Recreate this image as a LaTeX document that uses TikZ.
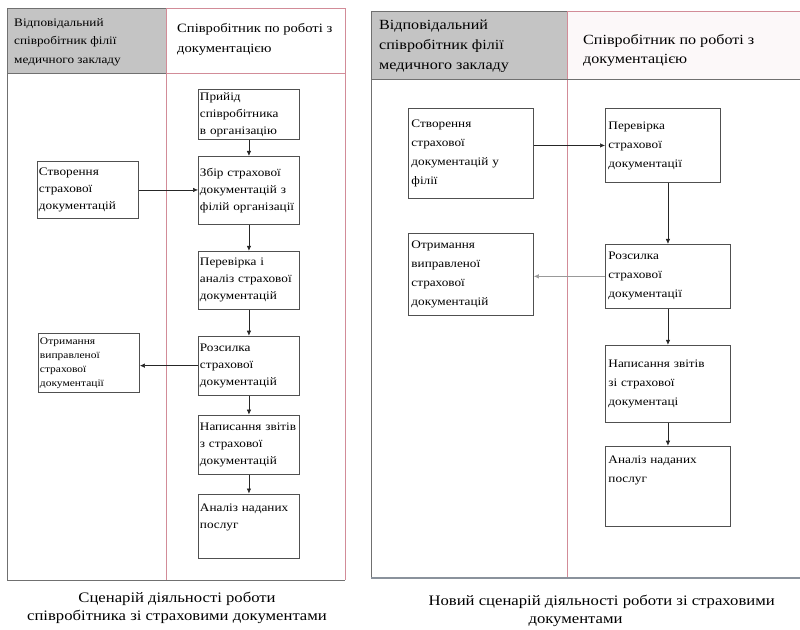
\documentclass[tikz,border=0pt]{standalone}
\usepackage{fontspec}
\setmainfont[FakeStretch=1.15]{Liberation Serif}
\usepackage{tikz}
\usetikzlibrary{arrows.meta, positioning}
\usepackage{xcolor}
\definecolor{headGray}{HTML}{C4C4C4}
\definecolor{laneRed}{HTML}{D28C98}
\definecolor{frameGray}{HTML}{707070}
\definecolor{boxGray}{HTML}{505050}
\definecolor{baseSlate}{HTML}{8A929C}

\begin{document}
\begin{tikzpicture}[
    x=1pt, y=-1pt,
    node distance=20pt,
    stepbox/.style={rectangle, draw=boxGray, line width=0.9pt, anchor=north west, align=left, inner xsep=1.5pt, inner ysep=2pt},
    oldbox/.style={stepbox, text width=98pt, font=\fontsize{11.5}{17}\selectfont},
    newbox/.style={stepbox, inner xsep=3pt, text width=119pt, font=\fontsize{11.5}{19}\selectfont},
    head/.style={anchor=north west, align=left, inner sep=0pt},
    flow/.style={draw=black!85, line width=0.6pt, -{Latex[length=5pt, width=4.5pt]}},
]
    \useasboundingbox (0,0) rectangle (800,629);

    % old scenario: lanes
    \fill[headGray] (7,8) rectangle (166,73);
    \draw[frameGray, line width=1pt] (166,8) -- (7,8) -- (7,580) -- (345,580);
    \draw[frameGray, line width=0.8pt] (7,73) -- (166,73);
    \draw[laneRed, line width=1pt] (166,580) -- (166,8) -- (345,8) -- (345,580);
    \draw[laneRed, line width=0.8pt] (166,73) -- (345,73);
    \node[head, font=\fontsize{11.5}{18.5}\selectfont] (hdrBranchOld) at (14,18) {Відповідальний\\співробітник філії\\медичного закладу};
    \node[head, font=\fontsize{12.7}{20}\selectfont] (hdrDocsOld) at (177,23) {Співробітник по роботі з\\документацією};

    % old scenario: steps
    \node[oldbox, minimum height=50pt] (prijom) at (198,89) {Прийід\\співробітника\\в організацію};
    \node[oldbox, minimum height=68pt, below=16pt of prijom] (zbir) {Збір страхової\\документацій з\\філій організації};
    \node[oldbox, minimum height=58pt, below=26pt of zbir] (perevirkaOld) {Перевірка і\\аналіз страхової\\документацій};
    \node[oldbox, minimum height=59pt, below=26pt of perevirkaOld] (rozsylkaOld) {Розсилка\\страхової\\документацій};
    \node[oldbox, minimum height=59pt, below=19pt of rozsylkaOld] (napysOld) {Написання звітів\\з страхової\\документацій};
    \node[oldbox, minimum height=64pt, below=19pt of napysOld] (analizOld) {Аналіз наданих\\послуг\\[2pt]\mbox{}};
    \node[oldbox, minimum height=57pt] (stvorOld) at (37,161) {Створення\\страхової\\документацій};
    \node[oldbox, minimum height=59pt, font=\fontsize{10}{14}\selectfont] (otrymOld) at (38,333) {Отримання\\виправленої\\страхової\\документації};

    \draw[flow] (prijom.south) -- (zbir.north);
    \draw[flow] (zbir.south) -- (perevirkaOld.north);
    \draw[flow] (perevirkaOld.south) -- (rozsylkaOld.north);
    \draw[flow] (rozsylkaOld.south) -- (napysOld.north);
    \draw[flow] (napysOld.south) -- (analizOld.north);
    \draw[flow] (stvorOld.east) -- (stvorOld.east -| zbir.west);
    \draw[flow] (rozsylkaOld.west) -- (rozsylkaOld.west -| otrymOld.east);

    % new scenario: lanes
    \fill[headGray] (371,11) rectangle (567,79);
    \fill[laneRed!6] (567,11) rectangle (800,79);
    \draw[frameGray, line width=1pt] (567,11) -- (371,11) -- (371,578);
    \draw[laneRed, line width=1pt] (567,578) -- (567,11) -- (800,11);
    \draw[frameGray, line width=0.8pt] (371,79) -- (800,79);
    \draw[baseSlate, line width=1.5pt] (371,578) -- (800,578);
    \node[head, font=\fontsize{14}{20}\selectfont] (hdrBranchNew) at (379,20) {Відповідальний\\співробітник філії\\медичного закладу};
    \node[head, font=\fontsize{14}{19}\selectfont] (hdrDocsNew) at (583,34) {Співробітник по роботі з\\документацією};

    % new scenario: steps
    \node[newbox, minimum height=90pt] (stvorNew) at (408,108) {Створення\\страхової\\документацій у\\філії};
    \node[newbox, minimum height=82pt] (otrymNew) at (408,233) {Отримання\\виправленої\\страхової\\документацій};
    \node[newbox, text width=109pt, minimum height=74pt] (perevirkaNew) at (605,108) {Перевірка\\страхової\\документації};
    \node[newbox, minimum height=64pt, below=61pt of perevirkaNew.south west, anchor=north west] (rozsylkaNew) {Розсилка\\страхової\\документації};
    \node[newbox, minimum height=77pt, below=36pt of rozsylkaNew] (napysNew) {Написання звітів\\зі страхової\\документаці};
    \node[newbox, minimum height=80pt, below=23pt of napysNew] (analizNew) {Аналіз наданих\\послуг\\[14pt]\mbox{}};

    \draw[flow] (stvorNew.east |- perevirkaNew.west) -- (perevirkaNew.west);
    \draw[flow] (rozsylkaNew.north |- perevirkaNew.south) -- (rozsylkaNew.north);
    \draw[flow, draw=black!40] (rozsylkaNew.west) -- (rozsylkaNew.west -| otrymNew.east);
    \draw[flow] (rozsylkaNew.south) -- (napysNew.north);
    \draw[flow] (napysNew.south) -- (analizNew.north);

    % captions
    \node[font=\fontsize{14.5}{18}\selectfont, align=center] (capOld) at (177,608) {Сценарій діяльності роботи\\співробітника зі страховими документами};
    \node[font=\fontsize{14.5}{18}\selectfont, align=left, anchor=north west] (capNew) at (425,592) {Новий сценарій діяльності роботи зі страховими\\\hspace*{100pt}документами};
\end{tikzpicture}
\end{document}
